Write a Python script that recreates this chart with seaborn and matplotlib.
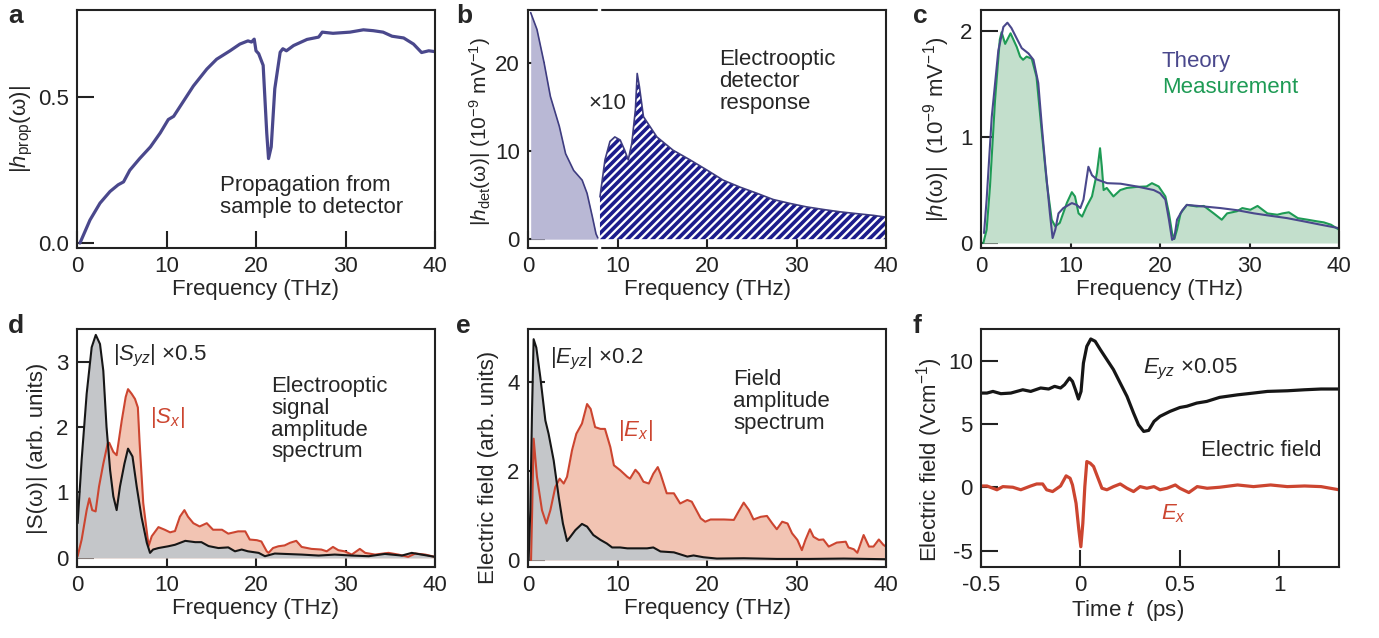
import matplotlib
matplotlib.use("Agg")
import matplotlib.pyplot as plt
import seaborn as sns
from matplotlib.ticker import FormatStrFormatter

# ---------------- data ----------------
# a: propagation transfer function
freq_a = [0.33, 1.45, 2.57, 3.69, 4.6, 5.2, 5.9, 7.0, 8.2, 9.3, 10.2, 10.8, 11.9, 13.0, 14.5,
          15.6, 17.1, 18.2, 19.1, 19.5, 19.8, 20.0, 20.3, 20.8, 21.2, 21.4, 21.7, 22.1, 22.7,
          23.0, 23.4, 24.2, 25.7, 27.0, 27.4, 28.6, 30.5, 32.0, 33.1, 34.2, 35.2, 36.5, 37.6,
          38.5, 39.3, 40.0]
hprop = [0.0, 0.079, 0.137, 0.177, 0.2, 0.21, 0.25, 0.29, 0.33, 0.378, 0.424, 0.435, 0.487,
         0.539, 0.597, 0.631, 0.66, 0.683, 0.694, 0.69, 0.70, 0.66, 0.65, 0.61, 0.378, 0.29,
         0.33, 0.53, 0.655, 0.667, 0.66, 0.678, 0.699, 0.707, 0.724, 0.72, 0.724, 0.732, 0.729,
         0.724, 0.71, 0.704, 0.683, 0.654, 0.66, 0.657]

# b: detector response, low part true scale, high part x10
freq_b_low = [0.3, 1.0, 1.8, 2.5, 3.5, 4.2, 5.1, 6.05, 6.6, 7.2, 7.6, 7.8]
hdet_low = [25.7, 23.8, 20.0, 16.2, 12.8, 9.7, 7.8, 6.7, 5.2, 2.5, 0.6, 0.15]
freq_b_high = [8.04, 8.6, 9.16, 9.7, 10.3, 10.8, 11.2, 11.6, 12.0, 12.2, 12.45, 12.9, 14.4,
               16.2, 18.1, 20.0, 21.8, 23.7, 25.6, 27.4, 29.3, 31.1, 33.0, 34.9, 36.7, 38.6,
               40.0]
hdet_x10 = [4.8, 9.0, 11.1, 11.6, 11.25, 10.1, 9.0, 10.9, 14.7, 18.8, 17.3, 13.9, 11.6,
            10.1, 9.0, 7.84, 6.7, 5.9, 5.2, 4.5, 4.05, 3.67, 3.37, 3.1, 2.9, 2.7, 2.5]

# c: total response, theory and measurement
freq_c_th = [0.34, 0.63, 1.2, 1.94, 2.5, 2.95, 3.4, 4.0, 4.55, 5.3, 5.86, 6.4, 6.8, 7.2, 7.7,
             8.0, 8.3, 8.66, 9.2, 10.15, 10.7, 11.1, 11.45, 12.0, 12.4, 12.95, 14.1, 15.6,
             17.4, 19.3, 20.0, 20.6, 21.0, 21.35, 21.6, 21.9, 22.5, 23.0, 24.9, 26.75, 28.6,
             30.5, 32.35, 34.2, 36.1, 37.95, 40.0]
h_theory = [0.094, 0.41, 1.19, 1.82, 2.04, 2.08, 2.03, 1.93, 1.84, 1.79, 1.73, 1.51, 1.10,
            0.72, 0.28, 0.047, 0.126, 0.28, 0.33, 0.377, 0.36, 0.33, 0.41, 0.72, 0.64, 0.60,
            0.565, 0.56, 0.534, 0.50, 0.47, 0.41, 0.22, 0.03, 0.047, 0.22, 0.31, 0.36, 0.345,
            0.33, 0.31, 0.28, 0.257, 0.235, 0.204, 0.173, 0.14]
freq_c_ms = [0.26, 0.63, 1.0, 1.57, 2.1, 2.3, 2.7, 3.3, 4.0, 4.37, 4.7, 5.1, 5.67, 6.2, 6.8,
             7.35, 7.9, 8.3, 8.8, 9.6, 10.15, 10.5, 10.9, 11.3, 11.8, 12.4, 12.95, 13.3, 13.5,
             13.7, 14.05, 14.8, 15.56, 16.3, 17.4, 18.5, 19.1, 19.85, 20.6, 21.0, 21.35, 21.6,
             21.9, 22.3, 23.0, 24.1, 24.9, 26.0, 26.9, 27.5, 28.6, 29.2, 30.1, 30.9, 32.0,
             33.1, 33.7, 34.4, 35.4, 36.5, 37.6, 38.3, 39.1, 40.0]
h_meas = [0.0, 0.126, 0.53, 1.35, 1.92, 1.99, 1.88, 1.98, 1.85, 1.76, 1.73, 1.76, 1.74, 1.57,
          1.04, 0.57, 0.22, 0.157, 0.19, 0.38, 0.48, 0.44, 0.28, 0.25, 0.345, 0.44, 0.66,
          0.895, 0.72, 0.50, 0.52, 0.44, 0.50, 0.52, 0.53, 0.534, 0.565, 0.534, 0.44, 0.28,
          0.094, 0.038, 0.126, 0.28, 0.36, 0.345, 0.35, 0.28, 0.22, 0.28, 0.30, 0.33, 0.314,
          0.35, 0.28, 0.267, 0.28, 0.29, 0.235, 0.22, 0.204, 0.195, 0.173, 0.126]

# d: electrooptic signal amplitude spectra
freq_d_yz = [0.07, 0.52, 1.08, 1.64, 2.1, 2.57, 2.94, 3.3, 3.7, 4.06, 4.43, 4.8, 5.3, 5.7,
             6.2, 6.67, 7.2, 7.8, 8.16, 8.5, 9.1, 10.2, 10.95, 12.1, 13.2, 13.9, 14.7, 15.8,
             16.9, 17.65, 18.4, 19.1, 20.3, 21.0, 22.1, 25.1, 27.0, 28.8, 30.7, 32.6, 34.4,
             36.3, 37.4, 38.5, 40.0]
s_yz = [0.53, 1.5, 2.51, 3.22, 3.41, 3.27, 2.86, 2.0, 1.34, 0.94, 0.73, 1.09, 1.44, 1.67,
        1.55, 1.09, 0.63, 0.23, 0.076, 0.127, 0.15, 0.177, 0.2, 0.26, 0.24, 0.24, 0.18, 0.15,
        0.16, 0.10, 0.127, 0.10, 0.076, 0.025, 0.066, 0.05, 0.035, 0.05, 0.035, 0.025, 0.06,
        0.035, 0.076, 0.05, 0.015]
freq_d_x = [0.07, 0.52, 1.08, 1.38, 1.7, 2.08, 2.46, 2.94, 3.43, 3.6, 4.06, 4.43, 5.0, 5.44,
            5.7, 6.1, 6.48, 6.8, 7.0, 7.4, 8.0, 8.35, 9.1, 9.8, 10.4, 10.95, 11.5, 12.0, 12.4,
            13.0, 13.7, 14.5, 15.2, 16.2, 16.9, 18.0, 18.8, 19.3, 20.1, 20.6, 21.2, 21.4,
            21.9, 22.5, 23.2, 23.8, 24.5, 25.1, 26.2, 27.3, 27.9, 28.6, 29.2, 29.9, 30.7,
            31.6, 32.2, 33.3, 34.8, 35.9, 37.0, 37.8, 38.9, 40.0]
s_x = [0.025, 0.28, 0.73, 0.91, 0.73, 0.71, 1.09, 1.44, 1.75, 1.76, 1.62, 1.57, 2.1, 2.46,
       2.58, 2.51, 2.43, 2.3, 1.75, 0.84, 0.18, 0.33, 0.47, 0.43, 0.39, 0.41, 0.63, 0.73, 0.63,
       0.53, 0.48, 0.53, 0.43, 0.43, 0.37, 0.405, 0.405, 0.28, 0.27, 0.25, 0.10, 0.076, 0.15,
       0.177, 0.19, 0.23, 0.26, 0.167, 0.137, 0.127, 0.10, 0.167, 0.117, 0.10, 0.05, 0.137,
       0.076, 0.05, 0.076, 0.05, 0.015, 0.066, 0.05, 0.015]

# e: field amplitude spectra
freq_e_yz = [0.07, 0.26, 0.45, 0.63, 0.93, 1.38, 1.94, 2.3, 2.87, 3.43, 3.9, 4.36, 4.73, 5.29,
             6.03, 6.6, 7.3, 8.1, 8.8, 9.4, 10.3, 11.1, 12.2, 13.3, 14.0, 14.8, 16.3, 17.8,
             18.5, 19.6, 21.1, 24.1, 27.8, 31.5, 35.3, 40.0]
e_yz = [0.0, 1.12, 3.36, 4.97, 4.78, 4.11, 3.14, 2.84, 2.24, 1.42, 0.82, 0.426, 0.52, 0.67,
        0.81, 0.75, 0.56, 0.45, 0.37, 0.28, 0.28, 0.26, 0.26, 0.26, 0.28, 0.19, 0.17, 0.075,
        0.1, 0.06, 0.03, 0.037, 0.022, 0.022, 0.03, 0.015]
freq_e_x = [0.34, 0.45, 0.63, 1.0, 1.56, 2.05, 2.5, 3.05, 3.54, 3.99, 4.36, 4.92, 5.4, 6.03,
            6.6, 7.0, 7.5, 8.1, 8.6, 9.2, 9.6, 10.3, 11.1, 11.4, 12.0, 12.4, 12.9, 13.5, 14.0,
            14.5, 14.8, 15.5, 16.3, 17.0, 17.8, 18.3, 19.3, 19.8, 20.4, 21.9, 23.0, 23.5, 24.1,
            24.7, 25.2, 26.0, 26.7, 27.3, 27.8, 28.4, 29.0, 29.5, 30.1, 30.6, 31.0, 31.5,
            31.9, 32.5, 33.0, 33.6, 34.5, 35.5, 35.8, 36.4, 36.8, 37.5, 38.1, 38.6, 39.2,
            39.7, 40.0]
e_x = [0.0, 0.97, 2.73, 1.87, 1.12, 0.82, 1.12, 1.64, 1.83, 1.72, 1.87, 2.47, 2.84, 3.07,
       3.51, 3.4, 2.99, 2.95, 2.95, 2.54, 2.13, 2.02, 1.87, 1.83, 2.03, 1.94, 1.76, 1.72, 1.94,
       2.09, 1.94, 1.5, 1.5, 1.27, 1.35, 1.31, 0.935, 0.86, 0.91, 0.91, 0.9, 1.08, 1.29, 1.12,
       0.91, 0.97, 0.99, 0.82, 0.69, 0.86, 0.82, 0.6, 0.45, 0.22, 0.45, 0.69, 0.52, 0.45,
       0.46, 0.3, 0.39, 0.41, 0.28, 0.24, 0.16, 0.56, 0.3, 0.3, 0.46, 0.34, 0.3]

# f: electric field traces
time_yz = [-0.5, -0.47, -0.44, -0.40, -0.35, -0.29, -0.25, -0.20, -0.16, -0.13, -0.10, -0.08,
           -0.055, -0.04, -0.025, -0.01, 0.003, 0.015, 0.032, 0.052, 0.074, 0.1, 0.133, 0.166,
           0.2, 0.234, 0.267, 0.292, 0.318, 0.343, 0.37, 0.4, 0.45, 0.5, 0.535, 0.585, 0.635,
           0.70, 0.79, 0.87, 0.94, 1.04, 1.127, 1.21, 1.30]
field_yz = [7.44, 7.44, 7.57, 7.39, 7.44, 7.7, 7.57, 7.84, 7.76, 7.97, 7.84, 8.1, 8.63, 8.36,
            7.7, 6.97, 7.57, 9.81, 11.13, 11.71, 11.53, 10.87, 10.08, 9.29, 8.23, 7.18, 5.86,
            4.93, 4.41, 4.49, 5.2, 5.6, 5.99, 6.3, 6.4, 6.65, 6.78, 7.1, 7.3, 7.44, 7.57, 7.62,
            7.7, 7.76, 7.76]
time_x = [-0.5, -0.47, -0.42, -0.39, -0.34, -0.30, -0.25, -0.22, -0.19, -0.17, -0.14, -0.10,
          -0.072, -0.052, -0.04, -0.022, -0.008, 0.002, 0.012, 0.022, 0.032, 0.049, 0.066,
          0.082, 0.108, 0.133, 0.166, 0.2, 0.234, 0.267, 0.3, 0.334, 0.37, 0.4, 0.435, 0.477,
          0.5, 0.545, 0.587, 0.637, 0.70, 0.79, 0.87, 0.956, 1.04, 1.127, 1.21, 1.30]
field_x = [0.1, 0.1, -0.2, 0.05, 0.0, -0.2, 0.1, 0.26, 0.26, -0.2, -0.34, 0.1, 0.9, 0.71,
           0.18, -1.27, -3.38, -4.7, -2.85, 0.05, 2.03, 1.9, 1.64, 0.98, -0.08, -0.2, 0.05,
           0.26, -0.08, -0.34, 0.05, -0.08, 0.05, -0.2, -0.08, 0.18, -0.08, -0.42, 0.05, -0.08,
           0.0, 0.18, 0.05, 0.18, 0.05, 0.1, 0.05, -0.2]

# ---------------- style ----------------
sns.set_theme(style="ticks")
plt.rcParams["font.family"] = ["Liberation Sans", "DejaVu Sans"]
plt.rcParams["mathtext.fontset"] = "custom"
plt.rcParams["mathtext.rm"] = "Liberation Sans"
plt.rcParams["mathtext.it"] = "Liberation Sans:italic"
plt.rcParams["mathtext.bf"] = "Liberation Sans:bold"
plt.rcParams["axes.unicode_minus"] = False
plt.rcParams["hatch.linewidth"] = 2.6
plt.rcParams["hatch.color"] = "#1c1c8c"

FS = 16
PURPLE = "#4a488c"
GREEN = "#1e9b55"
RED = "#cc4530"
BLACK = "#161616"
LS = 1.05

fig = plt.figure(figsize=(13.79, 6.38), dpi=100)
W = 358 / 1379
H = 238 / 638
lefts = [77 / 1379, 528 / 1379, 981 / 1379]
bot_top = 1 - 248 / 638
bot_bot = 1 - 567 / 638
axes = []
for bot in (bot_top, bot_bot):
    for l in lefts:
        axes.append(fig.add_axes([l, bot, W, H]))
ax_a, ax_b, ax_c, ax_d, ax_e, ax_f = axes

for ax in axes:
    for s in ax.spines.values():
        s.set_linewidth(1.5)
        s.set_color("#222222")
        s.set_visible(True)
    ax.tick_params(direction="in", length=12, width=1.5, top=False, right=False,
                   labelsize=FS, pad=6, colors="#222222")
    ax.set_xlim(0, 40)
    ax.set_xticks([0, 10, 20, 30, 40])
    ax.set_xlabel("Frequency (THz)", fontsize=FS, labelpad=1)

# ---- a ----
sns.lineplot(x=freq_a, y=hprop, ax=ax_a, color=PURPLE, lw=2.3)
ax_a.set_ylim(-0.017, 0.80)
ax_a.set_yticks([0, 0.5])
ax_a.yaxis.set_major_formatter(FormatStrFormatter("%.1f"))
ax_a.set_ylabel("|$\\mathit{h}_{\\mathrm{prop}}$(ω)|", fontsize=FS, labelpad=2)
ax_a.text(16.0, 0.16, "Propagation from\nsample to detector", fontsize=FS, va="center",
          ha="left", linespacing=LS)

# ---- b ----
ax_b.set_axisbelow(True)
ax_b.fill_between(freq_b_low, 0, hdet_low, color="#b9b8d5", lw=0)
sns.lineplot(x=freq_b_low, y=hdet_low, ax=ax_b, color="#3e3c80", lw=1.2)
ax_b.fill_between(freq_b_high, 0, hdet_x10, facecolor="white", edgecolor="#1c1c8c",
                  hatch="////", lw=0)
sns.lineplot(x=freq_b_high, y=hdet_x10, ax=ax_b, color="#3e3c80", lw=1.2)
ax_b.set_ylim(-1, 26)
ax_b.set_yticks([0, 10, 20])
ax_b.set_ylabel("|$\\mathit{h}_{\\mathrm{det}}$(ω)| (10$^{-9}$ mV$^{-1}$)", fontsize=15,
                labelpad=1, y=0.49)
ax_b.text(8.85, 15.4, "×10", fontsize=FS, ha="center", va="center")
ax_b.text(21.4, 17.9, "Electrooptic\ndetector\nresponse", fontsize=FS, ha="left",
          va="center", linespacing=LS)
for yy in ([-0.02, 0.02], [0.98, 1.02]):
    ax_b.plot([7.9, 7.9], yy, color="white", lw=2.5, transform=ax_b.get_xaxis_transform(),
              clip_on=False, zorder=5)

# ---- c ----
ax_c.set_axisbelow(True)
ax_c.fill_between(freq_c_ms, 0, h_meas, color="#c3dfcc", lw=0)
sns.lineplot(x=freq_c_ms, y=h_meas, ax=ax_c, color=GREEN, lw=1.5)
sns.lineplot(x=freq_c_th, y=h_theory, ax=ax_c, color=PURPLE, lw=1.5)
ax_c.set_ylim(-0.047, 2.2)
ax_c.set_yticks([0, 1, 2])
ax_c.set_ylabel("|$\\mathit{h}$(ω)|  (10$^{-9}$ mV$^{-1}$)", fontsize=FS, labelpad=6,
                y=0.5)
ax_c.text(20.2, 1.71, "Theory", fontsize=FS, color=PURPLE, va="center")
ax_c.text(20.2, 1.47, "Measurement", fontsize=FS, color=GREEN, va="center")

# ---- d ----
ax_d.fill_between(freq_d_x, 0, s_x, color="#f2c4b3", lw=0)
ax_d.fill_between(freq_d_yz, 0, s_yz, color="#c4c6c9", lw=0)
sns.lineplot(x=freq_d_x, y=s_x, ax=ax_d, color=RED, lw=1.5)
sns.lineplot(x=freq_d_yz, y=s_yz, ax=ax_d, color=BLACK, lw=1.5)
ax_d.set_ylim(-0.14, 3.5)
ax_d.set_yticks([0, 1, 2, 3])
ax_d.set_ylabel("|S(ω)| (arb. units)", fontsize=FS, labelpad=6)
ax_d.text(4.0, 3.09, "|$\\mathit{S}_{yz}$| ×0.5", fontsize=FS, va="center")
ax_d.text(8.2, 2.15, "|$\\mathit{S}_{x}$|", fontsize=FS, color=RED, va="center")
ax_d.text(21.7, 2.12, "Electrooptic\nsignal\namplitude\nspectrum", fontsize=FS,
          va="center", linespacing=LS)

# ---- e ----
ax_e.fill_between(freq_e_x, 0, e_x, color="#f2c4b3", lw=0)
ax_e.fill_between(freq_e_yz, 0, e_yz, color="#c4c6c9", lw=0)
sns.lineplot(x=freq_e_x, y=e_x, ax=ax_e, color=RED, lw=1.5)
sns.lineplot(x=freq_e_yz, y=e_yz, ax=ax_e, color=BLACK, lw=1.5)
ax_e.set_ylim(-0.16, 5.2)
ax_e.set_yticks([0, 2, 4])
ax_e.set_ylabel("Electric field (arb. units)", fontsize=FS, labelpad=6, y=0.42)
ax_e.text(2.5, 4.52, "|$\\mathit{E}_{yz}$| ×0.2", fontsize=FS, va="center")
ax_e.text(10.1, 2.92, "|$\\mathit{E}_{x}$|", fontsize=FS, color=RED, va="center")
ax_e.text(22.9, 3.57, "Field\namplitude\nspectrum", fontsize=FS, va="center",
          linespacing=LS)

# ---- f ----
sns.lineplot(x=time_x, y=field_x, ax=ax_f, color=RED, lw=2.3)
sns.lineplot(x=time_yz, y=field_yz, ax=ax_f, color=BLACK, lw=2.3)
ax_f.set_xlim(-0.5, 1.3)
ax_f.set_xticks([-0.5, 0, 0.5, 1])
ax_f.set_xticklabels(["-0.5", "0", "0.5", "1"])
ax_f.set_ylim(-6.3, 12.5)
ax_f.set_yticks([-5, 0, 5, 10])
ax_f.set_xlabel("Time $\\mathit{t}$  (ps)", fontsize=FS, labelpad=1, x=0.41)
ax_f.set_ylabel("Electric field (Vcm$^{-1}$)", fontsize=FS, labelpad=2, y=0.45)
ax_f.text(0.314, 9.29, "$\\mathit{E}_{yz}$ ×0.05", fontsize=FS, va="center")
ax_f.text(0.608, 2.9, "Electric field", fontsize=FS, va="center")
ax_f.text(0.405, -2.06, "$\\mathit{E}_{x}$", fontsize=FS, color=RED, va="center")

# panel letters
for lbl, (px, py) in zip("abcdef", [(8, 4), (456, 4), (913, 4), (8, 314), (456, 314),
                                     (913, 314)]):
    fig.text(px / 1379, 1 - py / 638, lbl, fontsize=19, fontweight="bold", va="top",
             ha="left")

fig.savefig("out.png", dpi=100)
